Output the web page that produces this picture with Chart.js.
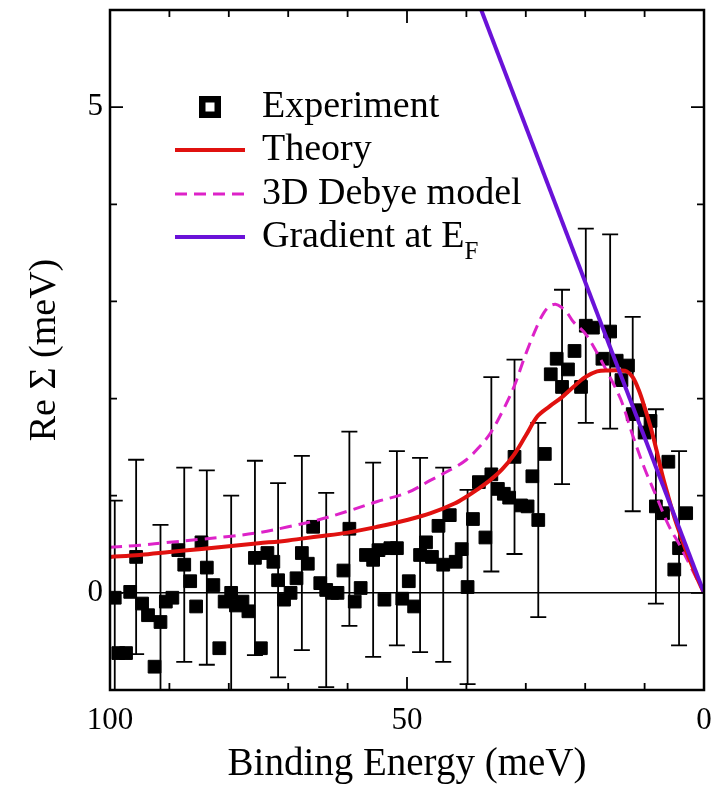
<!DOCTYPE html>
<html><head><meta charset="utf-8">
<script src="https://cdn.jsdelivr.net/npm/chart.js@4.4.1/dist/chart.umd.min.js"></script>
<style>html,body{margin:0;padding:0;background:#fff}#wrap{width:714px;height:792px}</style>
</head><body><div id="wrap"><canvas id="c" width="714" height="792"></canvas></div>
<script>
// ---------------- data ----------------
const expEnergy = [99.2,98.6,97.3,96.6,95.6,94.6,93.6,92.5,91.5,90.6,89.5,88.5,87.5,86.5,85.5,84.6,83.7,82.6,81.6,80.7,79.6,78.8,77.7,76.7,75.6,74.6,73.5,72.5,71.7,70.7,69.6,68.6,67.7,66.7,65.8,64.6,63.6,62.6,61.7,60.7,59.7,58.8,57.8,56.9,55.7,54.8,53.8,52.8,51.7,50.8,49.7,48.8,47.8,46.8,45.8,44.7,43.9,42.8,41.8,40.8,39.8,38.9,37.9,36.8,35.8,34.7,33.7,32.8,31.9,30.8,29.7,28.9,27.9,26.8,25.8,24.8,23.9,22.9,21.8,20.7,19.9,18.7,17.1,15.8,14.7,13.9,12.8,12.0,11.0,10.0,9.0,8.1,6.9,6.0,5.0,4.2,3.0];
const expSelfEnergy = [-0.05,-0.62,-0.62,0.01,0.37,-0.11,-0.23,-0.76,-0.30,-0.09,-0.05,0.44,0.29,0.12,-0.14,0.52,0.26,0.08,-0.57,-0.09,0.0,-0.13,-0.09,-0.19,0.36,-0.57,0.41,0.32,0.13,-0.07,0.0,0.15,0.41,0.30,0.68,0.10,0.03,0.0,0.0,0.23,0.66,-0.09,0.05,0.39,0.34,0.44,-0.07,0.46,0.46,-0.06,0.12,-0.14,0.39,0.52,0.37,0.69,0.29,0.80,0.32,0.45,0.06,0.76,1.14,0.57,1.22,1.07,1.02,0.98,1.40,0.90,0.89,1.20,0.75,1.43,2.25,2.41,2.12,2.30,2.49,2.12,2.75,2.73,2.41,2.69,2.39,2.19,2.34,1.84,1.88,1.65,1.77,0.89,0.82,1.35,0.24,0.46,0.82];
const expError = [1,null,null,null,1,null,null,null,1,null,null,null,1,null,null,null,1,null,null,null,1,null,null,null,1,null,null,null,1,null,null,null,1,null,null,null,1,null,null,null,1,null,null,null,1,null,null,null,1,null,null,null,1,null,null,null,1,null,null,null,1,null,null,null,1,null,null,null,1,null,null,null,1,null,null,null,1,null,null,null,1,null,null,1,null,null,null,1,null,null,null,1,null,null,null,1,null];

const theoryEnergy = [100,95,90,85,80,75,70,65,60,55,50,46,42,40,38,36,34,32,30,28,26,24,22,20,18,16,14,13,12,11,10,9,8,7,6,5,4,3,2,1,0];
const theoryValues = [0.37,0.39,0.42,0.45,0.48,0.51,0.54,0.58,0.62,0.68,0.75,0.82,0.92,0.99,1.07,1.16,1.27,1.42,1.62,1.82,1.92,2.01,2.12,2.22,2.28,2.29,2.29,2.28,2.22,2.09,1.91,1.71,1.47,1.21,0.99,0.78,0.60,0.43,0.28,0.13,0.0];

const debyeEnergy = [100,95,90,85,80,75,70,65,60,55,50,46,42,40,38,36,34,32,30,28,27,26,25,24,23,22,20,18,16,14,12,10,8,6,4,2,0];
const debyeValues = [0.47,0.49,0.52,0.55,0.58,0.62,0.68,0.75,0.84,0.94,1.03,1.16,1.29,1.37,1.49,1.64,1.86,2.12,2.46,2.76,2.88,2.95,2.97,2.94,2.88,2.79,2.67,2.47,2.24,1.99,1.62,1.28,0.99,0.70,0.48,0.24,0.0];

const gradientEnergy = [0, 37.5];
const gradientValues = [0, 6.0];

const xTickLabels = [0, 50, 100];
const yTickLabels = [0, 5];
const legendLabels = ['Experiment', 'Theory', '3D Debye model', 'Gradient at E'];

// ---------------- styling ----------------
const SERIF = '"Liberation Serif", "Times New Roman", serif';
const RED = '#e0110f', MAGENTA = '#dd22c8', PURPLE = '#6a12d8';

const toXY = (xs, ys) => xs.map((v, i) => ({x: v, y: ys[i]}));
const noPad = s => { s.paddingLeft = 0; s.paddingRight = 0; s.paddingTop = 0; s.paddingBottom = 0; };

const framePlugin = {
  id: 'frame',
  beforeDatasetsDraw(chart) {
    const {ctx, chartArea: a, scales: {x, y}} = chart;
    ctx.save();
    const y0 = y.getPixelForValue(0);
    ctx.strokeStyle = '#000'; ctx.lineWidth = 1.5;
    ctx.beginPath(); ctx.moveTo(a.left, y0); ctx.lineTo(a.right, y0); ctx.stroke();
    ctx.beginPath(); ctx.rect(a.left, a.top, a.right - a.left, a.bottom - a.top); ctx.clip();
    ctx.lineWidth = 1.8;
    expEnergy.forEach((e, i) => {
      const err = expError[i];
      if (err == null) return;
      const px = x.getPixelForValue(e);
      const t = y.getPixelForValue(expSelfEnergy[i] + err);
      const b = y.getPixelForValue(expSelfEnergy[i] - err);
      ctx.beginPath();
      ctx.moveTo(px, t); ctx.lineTo(px, b);
      ctx.moveTo(px - 8, t); ctx.lineTo(px + 8, t);
      ctx.moveTo(px - 8, b); ctx.lineTo(px + 8, b);
      ctx.stroke();
    });
    ctx.restore();
  },
  afterDatasetsDraw(chart) {
    const {ctx, chartArea: a, scales: {x, y}} = chart;
    ctx.save();
    ctx.strokeStyle = '#000';
    ctx.lineWidth = 1.8;
    x.ticks.forEach(t => {
      const px = x.getPixelForValue(t.value);
      const len = (t.value % 50 === 0) ? 13 : 7;
      ctx.beginPath();
      ctx.moveTo(px, a.bottom); ctx.lineTo(px, a.bottom - len);
      ctx.moveTo(px, a.top); ctx.lineTo(px, a.top + len);
      ctx.stroke();
    });
    y.ticks.forEach(t => {
      const py = y.getPixelForValue(t.value);
      const len = (t.value % 5 === 0) ? 13 : 7;
      ctx.beginPath();
      ctx.moveTo(a.left, py); ctx.lineTo(a.left + len, py);
      ctx.moveTo(a.right, py); ctx.lineTo(a.right - len, py);
      ctx.stroke();
    });
    ctx.lineWidth = 2.5;
    ctx.strokeRect(a.left, a.top, a.right - a.left, a.bottom - a.top);
    ctx.restore();
  },
  afterDraw(chart) {
    const {ctx} = chart;
    ctx.save();
    ctx.font = '38px ' + SERIF;
    ctx.fillStyle = '#000';
    ctx.textBaseline = 'alphabetic';
    const tx = 262, mx0 = 175, mx1 = 245;
    const base = [117, 160, 204, 247];
    ctx.fillStyle = '#000';
    ctx.fillRect(199, base[0] - 21, 22, 22);
    ctx.fillStyle = '#fff';
    ctx.fillRect(205.5, base[0] - 14.5, 9, 9);
    ctx.fillStyle = '#000';
    ctx.fillText(legendLabels[0], tx, base[0]);
    ctx.strokeStyle = RED; ctx.lineWidth = 4;
    ctx.beginPath(); ctx.moveTo(mx0, base[1] - 10); ctx.lineTo(mx1, base[1] - 10); ctx.stroke();
    ctx.fillText(legendLabels[1], tx, base[1]);
    ctx.strokeStyle = MAGENTA; ctx.lineWidth = 3; ctx.setLineDash([12, 7]);
    ctx.beginPath(); ctx.moveTo(mx0, base[2] - 10); ctx.lineTo(mx1, base[2] - 10); ctx.stroke();
    ctx.setLineDash([]);
    ctx.fillText(legendLabels[2], tx, base[2]);
    ctx.strokeStyle = PURPLE; ctx.lineWidth = 4;
    ctx.beginPath(); ctx.moveTo(mx0, base[3] - 10); ctx.lineTo(mx1, base[3] - 10); ctx.stroke();
    ctx.fillText(legendLabels[3], tx, base[3]);
    const w = ctx.measureText(legendLabels[3]).width;
    ctx.font = '25px ' + SERIF;
    ctx.fillText('F', tx + w, base[3] + 12);
    ctx.restore();
  }
};

new Chart(document.getElementById('c'), {
  type: 'scatter',
  data: {
    datasets: [
      {
        label: 'Experiment',
        data: toXY(expEnergy, expSelfEnergy),
        pointStyle: 'rect', pointRadius: 9, pointHoverRadius: 9,
        backgroundColor: '#000', borderColor: '#000', borderWidth: 1,
        order: 4
      },
      {
        label: '3D Debye model',
        data: toXY(debyeEnergy, debyeValues),
        showLine: true, pointRadius: 0, borderColor: MAGENTA, borderWidth: 3,
        borderDash: [12, 7], tension: 0.35, order: 3
      },
      {
        label: 'Theory',
        data: toXY(theoryEnergy, theoryValues),
        showLine: true, pointRadius: 0, borderColor: RED, borderWidth: 4,
        tension: 0.35, order: 2
      },
      {
        label: 'Gradient at EF',
        data: toXY(gradientEnergy, gradientValues),
        showLine: true, pointRadius: 0, borderColor: PURPLE, borderWidth: 4,
        order: 1
      }
    ]
  },
  options: {
    responsive: false,
    animation: false,
    devicePixelRatio: 1,
    layout: {padding: {left: 0, right: 0, top: 6, bottom: 0}},
    plugins: {legend: {display: false}, tooltip: {enabled: false}},
    scales: {
      x: {
        type: 'linear', min: 0, max: 100, reverse: true,
        afterFit: s => { s.height = 102; noPad(s); },
        grid: {display: false, drawTicks: false, tickLength: 0},
        border: {display: false},
        ticks: {
          stepSize: 10, autoSkip: false, maxRotation: 0, padding: 12,
          color: '#000', font: {family: SERIF, size: 31},
          callback: v => xTickLabels.includes(v) ? String(v) : ''
        },
        title: {display: true, text: 'Binding Energy (meV)', color: '#000',
          font: {family: SERIF, size: 39}, padding: {top: 0, bottom: 4}}
      },
      y: {
        type: 'linear', min: -1, max: 6,
        afterFit: s => { s.width = 110; noPad(s); },
        grid: {display: false, drawTicks: false, tickLength: 0},
        border: {display: false},
        ticks: {
          stepSize: 1, autoSkip: false, padding: 7,
          color: '#000', font: {family: SERIF, size: 31},
          callback: v => yTickLabels.includes(v) ? String(v) : ''
        },
        title: {display: true, text: 'Re Σ (meV)', color: '#000',
          font: {family: SERIF, size: 38}, padding: {top: 22, bottom: 0}}
      }
    }
  },
  plugins: [framePlugin]
});
</script>
</body></html>
